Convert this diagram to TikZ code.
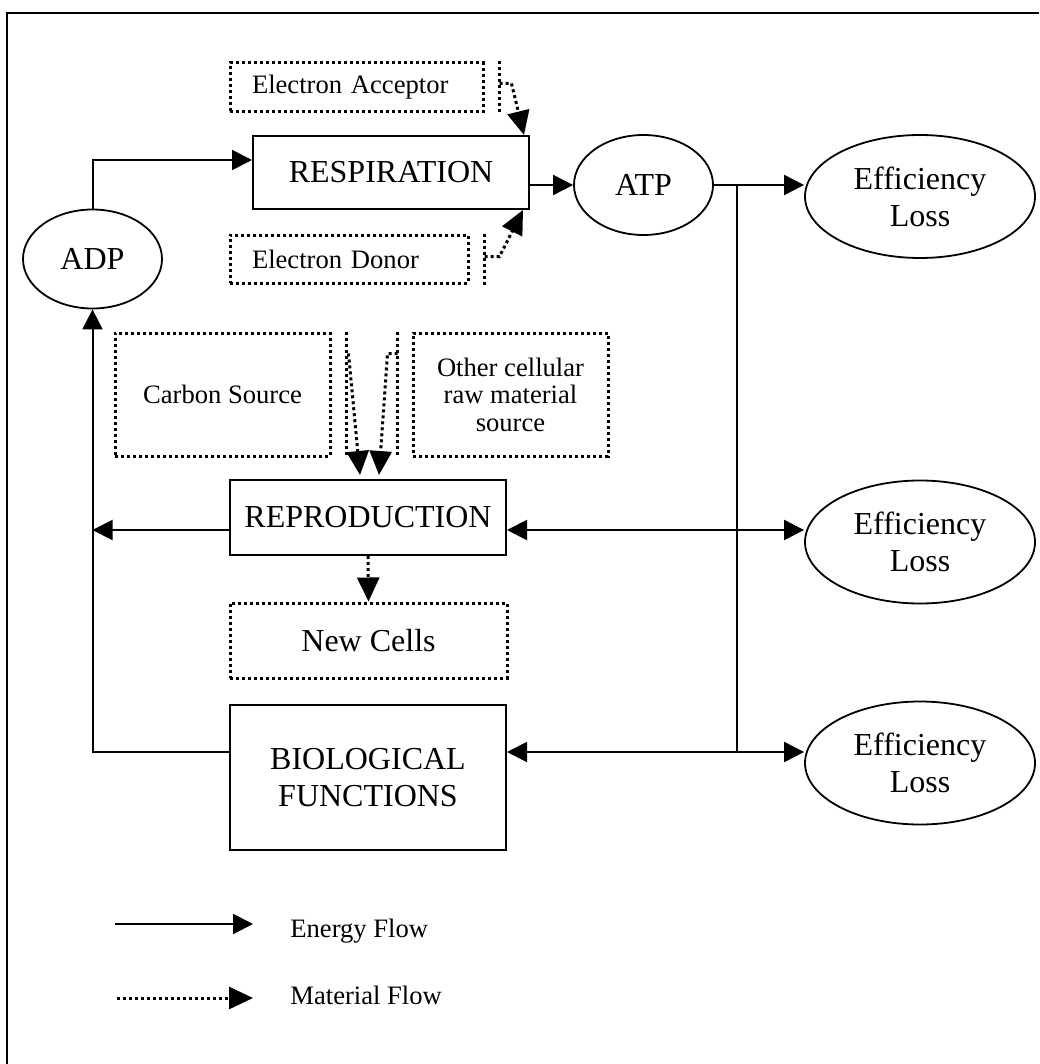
\documentclass[tikz,border=0pt]{standalone}
\usepackage{fontspec}
\setmainfont{Liberation Serif}
\usetikzlibrary{shapes.geometric,arrows.meta}
\newcommand{\bigtext}{\fontsize{16}{18.5}\selectfont}
\newcommand{\smalltext}{\fontsize{13.3}{13.8}\selectfont}
\tikzset{
    ebox/.style = {draw, line width = 1pt, inner sep = 0pt, align = center, font = \bigtext},
    mbox/.style = {draw, line width = 1.5pt, dash pattern = on 1.5pt off 1.5pt, inner sep = 0pt, font = \smalltext},
    eoval/.style = {draw, ellipse, line width = .9pt, inner sep = 0pt, align = center, font = \bigtext},
    eline/.style = {line width = 1pt},
    eflow/.style = {eline, -{Triangle[length = 10pt, width = 10pt]}},
    eboth/.style = {eline, {Triangle[length = 10pt, width = 10pt]}-{Triangle[length = 10pt, width = 10pt]}},
    mline/.style = {line width = 1.5pt, dash pattern = on 1.5pt off 1.5pt},
    mflow/.style = {mline, -{Triangle[length = 12pt, width = 11pt]}}
}
\begin{document}
\begin{tikzpicture}[x = .5pt, y = -.5pt]
    \useasboundingbox (0, 0) rectangle (1039, 1064);
    \draw [line width = 1.2pt] (7, 1064) -- (7, 13) -- (1039, 13);
    % energy nodes
    \node [ebox, minimum width = 138pt, minimum height = 36.5pt] (resp) at (391, 172.5) {RESPIRATION};
    \node [ebox, minimum width = 138pt, minimum height = 37.5pt] (repro) at (368, 517.5) {REPRODUCTION};
    \node [ebox, minimum width = 138pt, minimum height = 72.5pt] (bio) at (368, 777.5) {BIOLOGICAL\\FUNCTIONS};
    \node [eoval, minimum width = 69.5pt, minimum height = 50pt] (atp) at (643.5, 185) {ATP};
    \node [eoval, minimum width = 69.5pt, minimum height = 49.5pt] (adp) at (92.5, 259) {ADP};
    \node [eoval, minimum width = 115pt, minimum height = 61.5pt] (loss1) at (920, 196.5) {Efficiency\\Loss};
    \node [eoval, minimum width = 115pt, minimum height = 61.5pt] (loss2) at (920, 542) {Efficiency\\Loss};
    \node [eoval, minimum width = 115pt, minimum height = 61.5pt] (loss3) at (920, 763) {Efficiency\\Loss};
    % material nodes
    \node [mbox, inner xsep = 11pt, text width = 104.5pt, minimum height = 24.5pt, align = left] (accept) at (356.5, 87.5) {Electron Acceptor};
    \node [mbox, inner xsep = 11pt, text width = 97pt, minimum height = 24pt, align = left] (donor) at (349, 259) {Electron Donor};
    \node [mbox, minimum width = 107.5pt, minimum height = 61.5pt] (carbon) at (222.5, 394.5) {Carbon Source};
    \node [mbox, minimum width = 97.5pt, minimum height = 61.5pt, align = center] (other) at (510.5, 394.5) {Other cellular\\raw material\\source};
    \node [mbox, font = \bigtext, minimum width = 138.5pt, minimum height = 37.5pt] (cells) at (368.5, 640.5) {New Cells};
    % energy flow
    \coordinate (reprorow) at (737, 530);
    \coordinate (biorow) at (737, 752);
    \draw [eflow] (adp.north) |- ([yshift = 6.25pt]resp.west);
    \draw [eflow] (resp.east |- atp.west) -- (atp.west);
    \draw [eflow] (atp.east) -- (atp.east -| loss1.west);
    \draw [eline] (atp.east -| biorow) -- (biorow);
    \draw [eboth] (repro.east |- reprorow) -- (reprorow -| loss2.west);
    \draw [eboth] (bio.east |- biorow) -- (biorow -| loss3.west);
    \draw [eflow] (repro.west |- reprorow) -- (reprorow -| adp.south);
    \draw [eflow] (bio.west |- biorow) -| (adp.south);
    % material flow
    \draw [mline] ([xshift = 7.5pt]accept.north east) -- ([xshift = 7.5pt]accept.south east);
    \draw [mflow] ([xshift = 7.5pt, yshift = -11pt]accept.north east) -- ++(6pt, 0pt) -- ([xshift = -3pt]resp.north east);
    \draw [mline] ([xshift = 7.5pt]donor.north east) -- ([xshift = 7.5pt]donor.south east);
    \draw [mflow] ([xshift = 7.5pt, yshift = -11.5pt]donor.north east) -- ++(7.5pt, 0pt) -- ([xshift = -3.5pt]resp.south east);
    \draw [mline] ([xshift = 7.5pt]carbon.north east) -- ([xshift = 7.5pt]carbon.south east);
    \draw [mflow] ([xshift = 8.5pt, yshift = -11pt]carbon.north east) -- ([xshift = -4pt, yshift = 2pt]repro.north);
    \draw [mline] ([xshift = -7pt]other.north west) -- ([xshift = -7pt]other.south west);
    \draw [mflow] ([xshift = -7pt, yshift = -11pt]other.north west) -- ++(-5pt, 0pt) -- ([xshift = 5.5pt, yshift = 2pt]repro.north);
    \draw [mflow] (repro.south) -- (cells.north);
    % legend
    \coordinate (elegA) at (115, 924);
    \coordinate (elegB) at (253, 924);
    \coordinate (mlegA) at (117, 998);
    \coordinate (mlegB) at (253, 998);
    \draw [eflow] (elegA) -- (elegB);
    \draw [mflow] (mlegA) -- (mlegB);
    \node [font = \smalltext, inner sep = 0pt, anchor = base west] (etext) at (290, 937) {Energy Flow};
    \node [font = \smalltext, inner sep = 0pt, anchor = base west] (mtext) at (290, 1004) {Material Flow};
\end{tikzpicture}
\end{document}
